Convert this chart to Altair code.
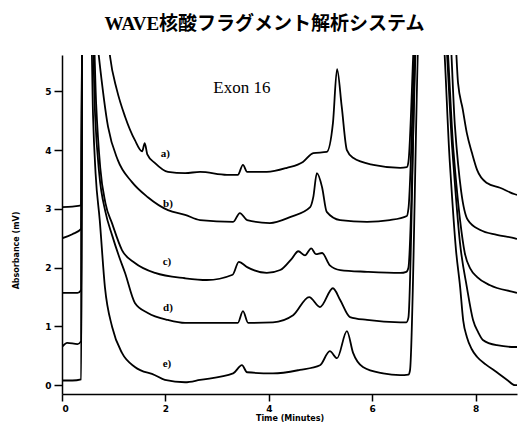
import altair as alt
import pandas as pd

# ---- trace values (time in minutes, absorbance in mV) ----
a_t = [0.00, 0.20, 0.37, 0.39, 0.86, 0.93, 1.06, 1.22, 1.41, 1.55, 1.60, 1.65, 1.80, 2.05, 2.38,
       2.67, 3.19, 3.40, 3.50, 3.58, 3.96, 4.35, 4.66, 4.86, 5.12, 5.24, 5.32, 5.41, 5.51, 5.63, 6.02,
       6.54, 6.67, 6.70, 6.84, 6.90, 7.58, 7.66, 7.75, 7.83, 7.93, 8.03, 8.22, 8.47, 8.76, 8.80]
a_y = [3.03, 3.04, 3.06, 6.2, 6.2, 5.59, 5.03, 4.57, 4.17, 3.98, 4.12, 3.93, 3.78, 3.63, 3.61,
       3.63, 3.58, 3.58, 3.75, 3.63, 3.63, 3.70, 3.80, 3.95, 3.97, 4.46, 5.38, 4.74, 4.00, 3.87, 3.75,
       3.70, 3.71, 3.80, 6.2, 6.2, 6.2, 5.14, 4.70, 4.29, 3.95, 3.66, 3.44, 3.36, 3.25, 3.24]

b_t = [0.00, 0.20, 0.37, 0.39, 0.64, 0.70, 0.89, 1.08, 1.35, 1.66, 2.05, 2.38, 2.67, 3.31, 3.44, 3.58,
       4.02, 4.41, 4.80, 4.86, 4.93, 5.03, 5.12, 5.38, 5.90, 6.34, 6.67, 6.70, 6.86, 7.48, 7.60, 7.72,
       7.85, 8.09, 8.41, 8.76, 8.80]
b_y = [2.50, 2.57, 2.66, 6.2, 6.2, 5.70, 4.40, 3.83, 3.46, 3.20, 2.98, 2.90, 2.81, 2.78, 2.93, 2.81,
       2.76, 2.86, 3.03, 3.20, 3.61, 3.37, 2.95, 2.81, 2.78, 2.81, 2.88, 3.00, 6.2, 6.2, 4.40, 3.30,
       2.81, 2.64, 2.56, 2.50, 2.49]

c_t = [0.00, 0.30, 0.37, 0.39, 0.60, 0.66, 0.74, 0.84, 0.97, 1.16, 1.41, 1.80, 2.38, 2.80, 3.30, 3.42,
       3.58, 3.96, 4.22, 4.45, 4.57, 4.70, 4.82, 4.91, 5.03, 5.18, 5.38, 5.90, 6.54, 6.66, 6.70, 6.88,
       7.40, 7.57, 7.70, 7.79, 7.90, 8.03, 8.28, 8.76, 8.80]
c_y = [1.57, 1.57, 1.62, 6.2, 6.2, 4.8, 3.7, 3.1, 2.75, 2.30, 2.08, 1.91, 1.82, 1.79, 1.88, 2.10,
       2.01, 1.91, 1.96, 2.16, 2.28, 2.21, 2.33, 2.23, 2.25, 2.04, 1.96, 1.93, 1.91, 1.93, 2.00, 6.2,
       6.2, 4.0, 2.8, 2.25, 1.98, 1.84, 1.70, 1.58, 1.57]

d_t = [0.00, 0.10, 0.30, 0.37, 0.39, 0.58, 0.64, 0.72, 0.84, 0.97, 1.10, 1.22, 1.41, 1.66, 2.05, 2.38,
       2.67, 3.40, 3.50, 3.60, 4.08, 4.47, 4.78, 4.99, 5.24, 5.38, 5.57, 5.90, 6.54, 6.66, 6.70, 6.86,
       7.38, 7.55, 7.70, 7.83, 7.95, 8.05, 8.14, 8.41, 8.76, 8.80]
d_y = [0.65, 0.72, 0.70, 0.75, 6.2, 6.2, 4.6, 3.6, 2.95, 2.55, 2.2, 1.91, 1.40, 1.23, 1.11, 1.06,
       1.06, 1.06, 1.26, 1.06, 1.07, 1.19, 1.50, 1.33, 1.65, 1.45, 1.16, 1.11, 1.07, 1.07, 1.15, 6.2,
       6.2, 4.0, 2.4, 1.67, 1.11, 0.90, 0.77, 0.68, 0.65, 0.65]

e_t = [0.00, 0.20, 0.37, 0.39, 0.56, 0.60, 0.65, 0.73, 0.83, 0.97, 1.16, 1.41, 1.80, 1.99, 2.38, 2.67,
       3.31, 3.48, 3.58, 4.08, 4.60, 4.99, 5.18, 5.32, 5.51, 5.63, 5.82, 6.21, 6.54, 6.70, 6.73, 6.92,
       7.34, 7.50, 7.62, 7.70, 7.76, 7.83, 7.92, 8.03, 8.20, 8.41, 8.61, 8.76, 8.80]
e_y = [0.08, 0.08, 0.10, 6.2, 6.2, 4.6, 3.6, 2.81, 1.67, 0.99, 0.55, 0.31, 0.17, 0.09, 0.05, 0.09,
       0.20, 0.34, 0.22, 0.20, 0.26, 0.34, 0.58, 0.46, 0.92, 0.55, 0.31, 0.20, 0.17, 0.18, 0.25, 6.2,
       6.2, 3.8, 2.3, 1.67, 1.1, 0.82, 0.62, 0.48, 0.35, 0.22, 0.09, 0.00, 0.00]

label_text = ["a)", "b)", "c)", "d)", "e)"]
label_t = [2.00, 2.05, 2.03, 2.05, 2.03]
label_y = [3.94, 3.08, 2.10, 1.31, 0.36]

annot_text = ["Exon 16"]
annot_t = [3.48]
annot_y = [5.06]

x_ticks = [0, 2, 4, 6, 8]
y_ticks = [0, 1, 2, 3, 4, 5]

rows = []
for name, ts, ys in [("a", a_t, a_y), ("b", b_t, b_y), ("c", c_t, c_y), ("d", d_t, d_y), ("e", e_t, e_y)]:
    for i, (t, y) in enumerate(zip(ts, ys)):
        rows.append({"trace": name, "t": t, "y": y, "order": i})
df = pd.DataFrame(rows)

labels_df = pd.DataFrame({"text": label_text, "t": label_t, "y": label_y})
annot_df = pd.DataFrame({"text": annot_text, "t": annot_t, "y": annot_y})

x_scale = alt.Scale(domain=[0, 8.8], nice=False, zero=False)
y_scale = alt.Scale(domain=[-0.15, 5.62], nice=False, zero=False)

lines = alt.Chart(df).mark_line(color="black", strokeWidth=1.8, clip=True, interpolate="monotone").encode(
    x=alt.X("t:Q", scale=x_scale,
            axis=alt.Axis(values=x_ticks, title="Time (Minutes)", format="d", grid=False,
                          tickSize=7, labelPadding=3, titlePadding=1)),
    y=alt.Y("y:Q", scale=y_scale,
            axis=alt.Axis(values=y_ticks, title="Absorbance (mV)", format="d", grid=False,
                          tickSize=8, labelPadding=3, titleX=-42, titleY=195)),
    detail="trace:N",
    order="order:Q",
)

labels = alt.Chart(labels_df).mark_text(font="Liberation Serif", fontSize=11, fontWeight="bold",
                                        color="black", align="center").encode(
    x=alt.X("t:Q", scale=x_scale), y=alt.Y("y:Q", scale=y_scale), text="text:N")

annot = alt.Chart(annot_df).mark_text(font="Liberation Serif", fontSize=17, color="black",
                                      align="center").encode(
    x=alt.X("t:Q", scale=x_scale), y=alt.Y("y:Q", scale=y_scale), text="text:N")

chart = alt.layer(lines, labels, annot).properties(
    width=455,
    height=339,
    autosize=alt.AutoSizeParams(type="none"),
    padding={"left": 62, "top": 55, "right": 2, "bottom": 36},
    title=alt.TitleParams(text="WAVE核酸フラグメント解析システム",
                          font="Liberation Serif, Noto Sans CJK JP", fontSize=19, fontWeight="bold",
                          anchor="middle", frame="bounds", offset=21, color="black"),
).configure_view(stroke=None).configure_axis(
    domainColor="black", domainWidth=1.5, tickColor="black", tickWidth=1.5,
    labelFont="DejaVu Sans", labelFontWeight="bold", labelFontSize=9, labelColor="black",
    titleFont="DejaVu Sans", titleFontWeight="bold", titleFontSize=8, titleColor="black",
)

chart.save("out.html", embed_options={"renderer": "svg", "actions": False})
